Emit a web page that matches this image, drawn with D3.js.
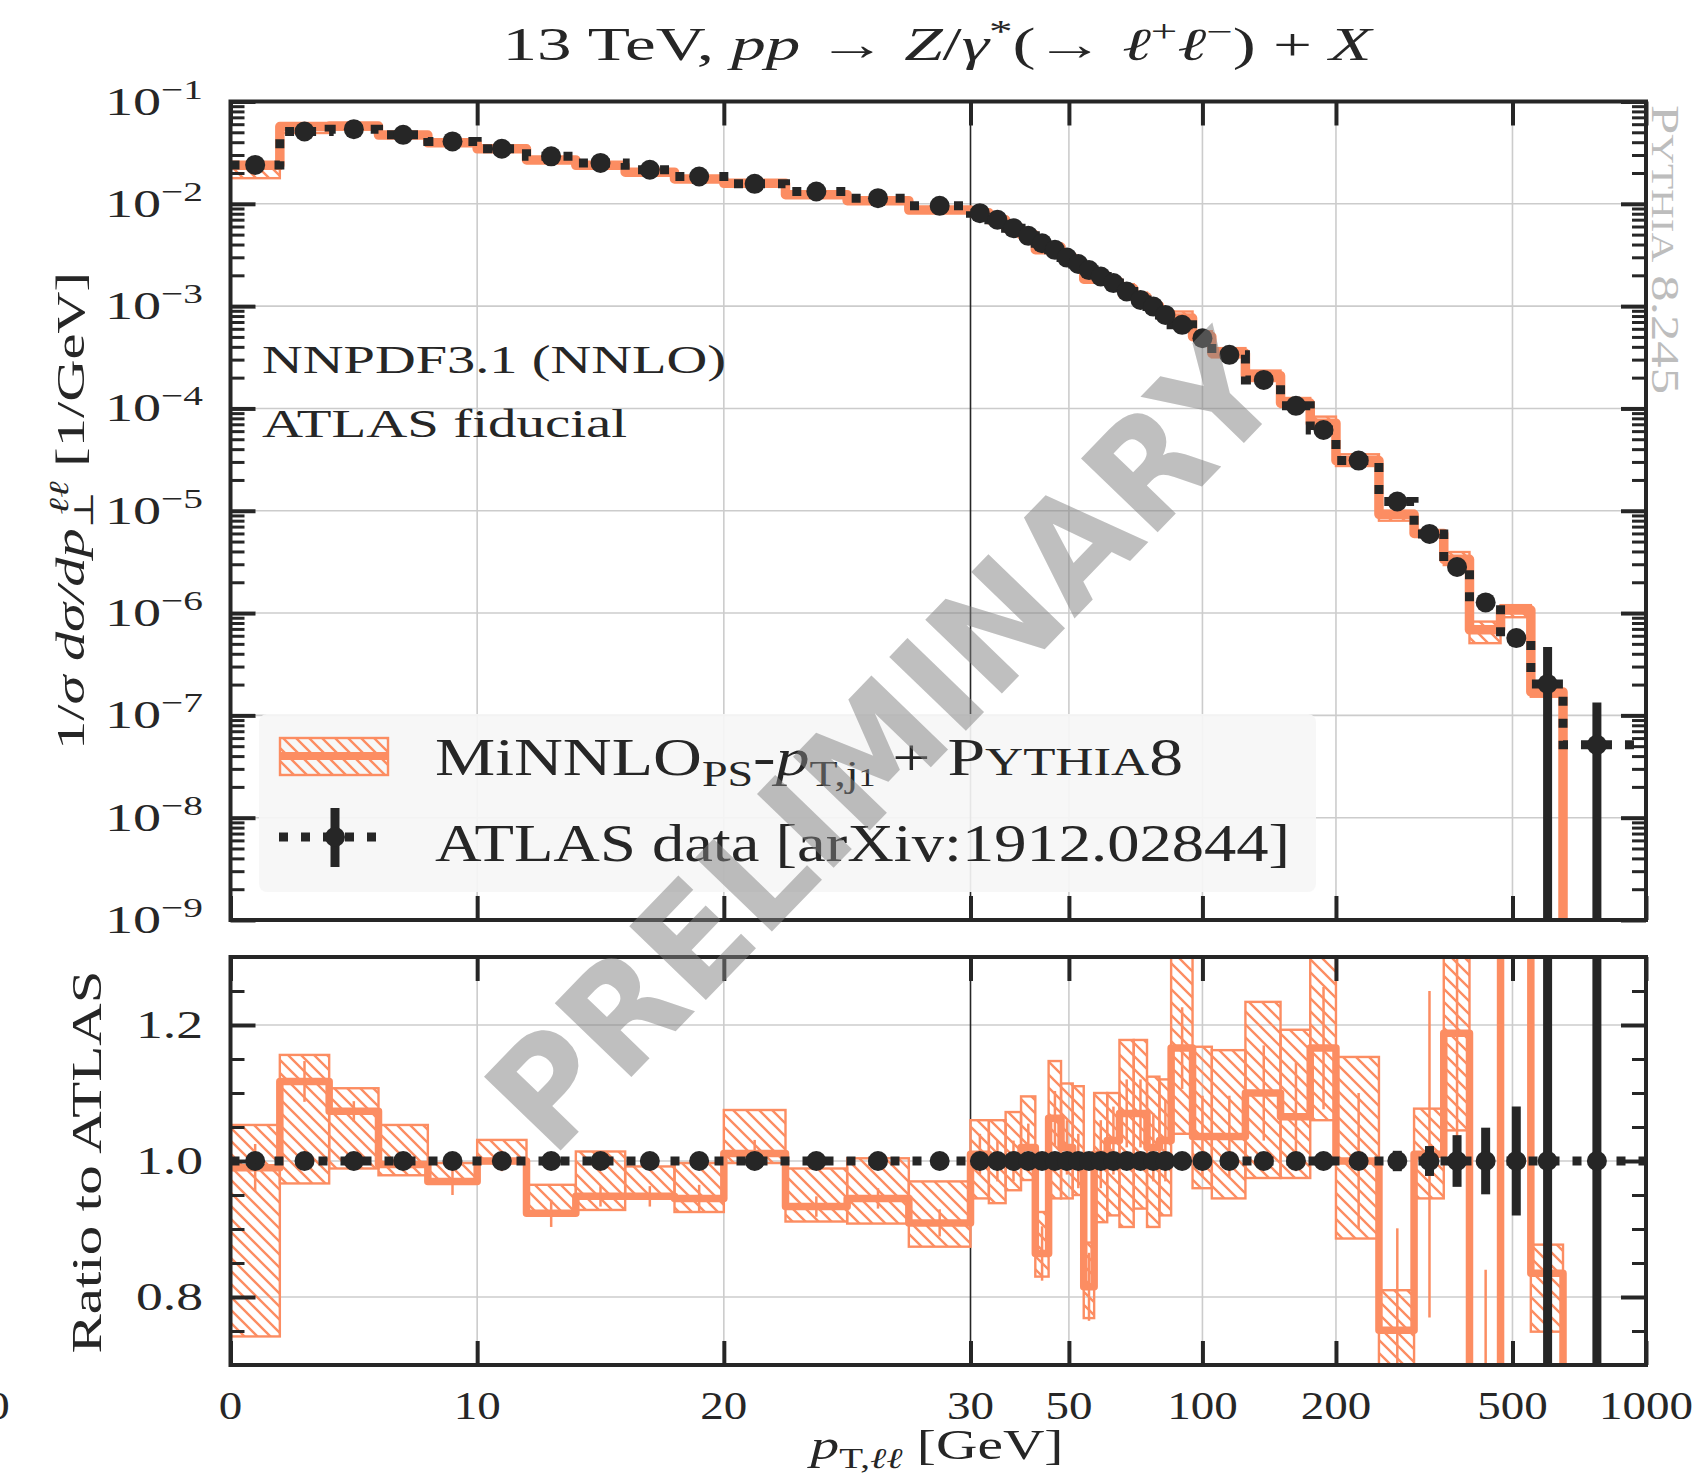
<!DOCTYPE html>
<html>
<head>
<meta charset="utf-8">
<script src="https://cdn.jsdelivr.net/npm/d3@7/dist/d3.min.js"></script>
<style>
  body { margin: 0; background: #fff; }
  svg { display: block; }
  text { font-family: "Liberation Serif", "DejaVu Serif", serif; fill: #262626; }
</style>
</head>
<body>
<svg id="chart" width="1705" height="1481"></svg>
<script>
// ─── data ──────────────────────────────────────────────────────────────────
// ATLAS 13 TeV Z pT binning [GeV]
const binEdges = [0, 2, 4, 6, 8, 10, 12, 14, 16, 18, 20, 22.5, 25, 27.5, 30,
  33, 36, 39, 42, 45, 48, 51, 54, 57, 61, 65, 70, 75, 80, 85, 95, 105, 125,
  150, 175, 200, 250, 300, 350, 400, 470, 550, 650, 900, 2500];

// 1/sigma dsigma/dpT [1/GeV], ATLAS data
const atlasVals = [0.0240, 0.0509, 0.0537, 0.0472, 0.0407, 0.0345, 0.0291, 0.0251,
  0.0215, 0.0185, 0.01567, 0.01318, 0.01135, 0.00955,
  0.0081, 0.00698, 0.00578, 0.00486, 0.00412, 0.00355, 0.00298, 0.00258, 0.00225,
  0.00195, 0.00168, 0.00139, 0.00115, 0.00099, 0.00082, 0.000656, 0.000486,
  0.000334, 0.00019, 0.000106, 6.16e-5, 3.09e-5, 1.23e-5, 5.94e-6, 2.82e-6,
  1.27e-6, 5.69e-7, 2.03e-7, 5.15e-8, 5.15e-8];

// relative uncertainty of the data
const atlasRelErr = [0.005, 0.005, 0.005, 0.005, 0.005, 0.005, 0.005, 0.005, 0.005,
  0.005, 0.005, 0.005, 0.005, 0.005, 0.005, 0.005, 0.005, 0.005, 0.005, 0.005,
  0.005, 0.005, 0.005, 0.005, 0.005, 0.005, 0.005, 0.005, 0.005, 0.005, 0.006,
  0.006, 0.007, 0.008, 0.009, 0.01, 0.015, 0.022, 0.038, 0.049, 0.08, 1.3, 1.6, 0];

// MiNNLO_PS + Pythia8 divided by ATLAS
const mnRatio = [0.99, 1.117, 1.073, 0.995, 0.97, 1.0, 0.923, 0.948, 0.948, 0.945,
  1.011, 0.933, 0.945, 0.909,
  1.01, 1.0, 1.0, 1.02, 0.864, 1.063, 1.02, 1.0, 0.815, 1.01, 1.03, 1.07, 1.07,
  1.02, 1.03, 1.166, 1.036, 1.036, 1.10, 1.065, 1.166, 1.0, 0.751, 1.01, 1.188,
  0.54, 1.88, 0.835, 0, 0];
const mnBandLo = [0.742, 0.967, 0.989, 0.979, 0.967, 0.997, 0.923, 0.928, 0.948,
  0.925, 0.997, 0.911, 0.908, 0.874,
  0.945, 0.938, 0.957, 0.972, 0.83, 0.945, 0.945, 0.95, 0.769, 0.91, 0.92, 0.903,
  0.93, 0.903, 0.92, 1.04, 0.96, 0.945, 0.975, 0.975, 1.06, 0.886, 0.65, 0.945,
  1.045, 0.4, 1.6, 0.749, null, null];
const mnBandHi = [1.053, 1.156, 1.107, 1.053, 0.997, 1.031, 0.965, 1.014, 0.992,
  0.997, 1.075, 0.989, 1.004, 0.97,
  1.06, 1.06, 1.072, 1.095, 0.925, 1.147, 1.114, 1.11, 0.88, 1.10, 1.10, 1.178,
  1.178, 1.124, 1.12, 1.35, 1.168, 1.163, 1.234, 1.193, 1.35, 1.153, 0.81, 1.077,
  1.4, 0.65, 2.1, 0.877, null, null];
const mnStatErr = [0.035, 0.03, 0.015, 0.01, 0.02, 0.015, 0.02, 0.015, 0.015, 0.02,
  0.02, 0.015, 0.015, 0.02,
  0.03, 0.03, 0.03, 0.035, 0.04, 0.04, 0.04, 0.04, 0.05, 0.05, 0.05, 0.05, 0.05,
  0.05, 0.06, 0.06, 0.06, 0.06, 0.07, 0.08, 0.09, 0.1, 0.15, 0.24, 0.2, 0.3, 0.5,
  0.4, 0, 0];

// ticks
const xLinTicks = [0, 10, 20, 30];
const xLogTicks = [50, 100, 200, 500, 1000];
const yDecades = [-9, -8, -7, -6, -5, -4, -3, -2, -1];
const ratioMajor = [0.8, 1.0, 1.2];
const ratioMinor = [0.75, 0.85, 0.9, 0.95, 1.05, 1.1, 1.15, 1.25];

// ─── geometry ──────────────────────────────────────────────────────────────
const ORANGE = "#fc8d62", INK = "#262626", GRID = "#cccccc";
const X0 = 230.5, XM = 970.5, X1 = 1646;
const MT = 101.5, MB = 920, RT = 957, RB = 1365;

const xLin = d3.scaleLinear().domain([0, 30]).range([X0, XM]);
const xLog = d3.scaleLog().domain([30, 1000]).range([XM, X1]);
const xPos = v => v <= 30 ? xLin(v) : xLog(v);
const yMain = d3.scaleLog().domain([1e-9, 1e-1]).range([MB, MT]);
const yM = v => yMain(Math.max(v, 1e-13));
const yRat = d3.scaleLinear().domain([0.7, 1.3]).range([RB, RT]);

const bins = atlasVals.map((v, i) => ({
  lo: binEdges[i], hi: binEdges[i + 1], mid: (binEdges[i] + binEdges[i + 1]) / 2,
  data: v, err: atlasRelErr[i],
  r: mnRatio[i], mn: v * mnRatio[i],
  bLo: mnBandLo[i], bHi: mnBandHi[i], stat: mnStatErr[i]
}));
const shown = bins.filter(b => b.mid < 1000);

const svg = d3.select("#chart");
const defs = svg.append("defs");
defs.append("clipPath").attr("id", "clipMain").append("rect")
  .attr("x", X0).attr("y", MT).attr("width", X1 - X0).attr("height", MB - MT);
defs.append("clipPath").attr("id", "clipRat").append("rect")
  .attr("x", X0).attr("y", RT).attr("width", X1 - X0).attr("height", RB - RT);
const hatch = defs.append("pattern").attr("id", "hatch")
  .attr("patternUnits", "userSpaceOnUse").attr("width", 13).attr("height", 13);
hatch.append("path")
  .attr("d", "M-3.25,-3.25L16.25,16.25M-3.25,9.75L3.25,16.25M9.75,-3.25L16.25,3.25")
  .attr("stroke", ORANGE).attr("stroke-width", 2.4);

const stepPath = (acc, y) => d3.line().curve(d3.curveStepAfter)
  .x(d => xPos(d.x)).y(d => y(d.v))(
    bins.map(b => ({ x: b.lo, v: acc(b) }))
      .concat([{ x: bins[bins.length - 1].hi, v: acc(bins[bins.length - 1]) }]));

// ─── grids ─────────────────────────────────────────────────────────────────
const gridX = [10, 20, 50, 100, 200, 500];
function grid(top, bottom, hVals, y) {
  const g = svg.append("g").attr("stroke", GRID).attr("stroke-width", 1.6);
  g.selectAll("line.h").data(hVals).join("line").attr("class", "h")
    .attr("x1", X0).attr("x2", X1).attr("y1", y).attr("y2", y);
  g.selectAll("line.v").data(gridX).join("line").attr("class", "v")
    .attr("x1", xPos).attr("x2", xPos).attr("y1", top).attr("y2", bottom);
  svg.append("line").attr("x1", XM).attr("x2", XM).attr("y1", top).attr("y2", bottom)
    .attr("stroke", INK).attr("stroke-width", 1.6);
}
grid(MT, MB, yDecades.slice(1, -1).map(k => Math.pow(10, k)), d => yMain(d));
grid(RT, RB, ratioMajor, d => yRat(d));

// ─── main panel ────────────────────────────────────────────────────────────
const main = svg.append("g").attr("clip-path", "url(#clipMain)");
main.selectAll("rect.band").data(bins.filter(b => b.bLo != null)).join("rect")
  .attr("class", "band")
  .attr("x", b => xPos(b.lo)).attr("width", b => xPos(b.hi) - xPos(b.lo))
  .attr("y", b => yM(b.data * b.bHi))
  .attr("height", b => yM(b.data * b.bLo) - yM(b.data * b.bHi))
  .attr("fill", "url(#hatch)").attr("stroke", ORANGE).attr("stroke-width", 2.4);
main.append("path").attr("d", stepPath(b => b.mn, yM))
  .attr("fill", "none").attr("stroke", ORANGE).attr("stroke-width", 9.5)
  .attr("stroke-linejoin", "round");
main.append("path").attr("d", stepPath(b => b.data, yM))
  .attr("fill", "none").attr("stroke", INK).attr("stroke-width", 9)
  .attr("stroke-dasharray", "9 13");
main.selectAll("line.err").data(shown).join("line").attr("class", "err")
  .attr("x1", b => xPos(b.mid)).attr("x2", b => xPos(b.mid))
  .attr("y1", b => yM(b.data * (1 + b.err)))
  .attr("y2", b => b.err >= 1 ? MB + 20 : yM(b.data * (1 - b.err)))
  .attr("stroke", INK).attr("stroke-width", 9);
main.selectAll("circle").data(shown).join("circle")
  .attr("cx", b => xPos(b.mid)).attr("cy", b => yM(b.data)).attr("r", 10)
  .attr("fill", INK);

// ─── ratio panel ───────────────────────────────────────────────────────────
const rat = svg.append("g").attr("clip-path", "url(#clipRat)");
rat.selectAll("rect.band").data(bins.filter(b => b.bLo != null)).join("rect")
  .attr("class", "band")
  .attr("x", b => xPos(b.lo)).attr("width", b => xPos(b.hi) - xPos(b.lo))
  .attr("y", b => yRat(b.bHi)).attr("height", b => yRat(b.bLo) - yRat(b.bHi))
  .attr("fill", "url(#hatch)").attr("stroke", ORANGE).attr("stroke-width", 2.4);
rat.append("path").attr("d", stepPath(b => b.r, yRat))
  .attr("fill", "none").attr("stroke", ORANGE).attr("stroke-width", 7.5)
  .attr("stroke-linejoin", "round");
rat.selectAll("line.stat").data(bins.filter(b => b.stat > 0)).join("line")
  .attr("class", "stat")
  .attr("x1", b => xPos(b.mid)).attr("x2", b => xPos(b.mid))
  .attr("y1", b => yRat(b.r + b.stat)).attr("y2", b => yRat(b.r - b.stat))
  .attr("stroke", ORANGE).attr("stroke-width", 2.5);
rat.append("path").attr("d", stepPath(() => 1, yRat))
  .attr("fill", "none").attr("stroke", INK).attr("stroke-width", 9)
  .attr("stroke-dasharray", "9 13");
rat.selectAll("line.err").data(shown).join("line").attr("class", "err")
  .attr("x1", b => xPos(b.mid)).attr("x2", b => xPos(b.mid))
  .attr("y1", b => yRat(1 + b.err)).attr("y2", b => yRat(1 - b.err))
  .attr("stroke", INK).attr("stroke-width", 9);
rat.selectAll("circle").data(shown).join("circle")
  .attr("cx", b => xPos(b.mid)).attr("cy", yRat(1)).attr("r", 10)
  .attr("fill", INK);

// ─── axes (inward ticks on all four sides) ─────────────────────────────────
function tickGroup(axis, tx, ty, w) {
  const g = svg.append("g").attr("transform", `translate(${tx},${ty})`).call(axis);
  g.select(".domain").remove();
  g.selectAll(".tick line").attr("stroke", INK).attr("stroke-width", w);
  return g;
}
function xTicks(yEdge, top) {
  const mk = s => (top ? d3.axisTop(s) : d3.axisBottom(s)).tickSize(-24).tickFormat("");
  tickGroup(mk(xLin).tickValues(xLinTicks), 0, yEdge, 4);
  tickGroup(mk(xLog).tickValues(xLogTicks), 0, yEdge, 4);
}
xTicks(MB, false); xTicks(MT, true); xTicks(RB, false); xTicks(RT, true);

const mainMinor = [];
yDecades.slice(0, -1).forEach(k => d3.range(2, 10).forEach(m => mainMinor.push(m * Math.pow(10, k))));
const decVals = yDecades.map(k => Math.pow(10, k));
[[d3.axisLeft, X0], [d3.axisRight, X1]].forEach(([ax, xe]) => {
  tickGroup(ax(yMain).tickValues(decVals).tickSize(-25).tickFormat(""), xe, 0, 4);
  tickGroup(ax(yMain).tickValues(mainMinor).tickSize(-14).tickFormat(""), xe, 0, 3);
  tickGroup(ax(yRat).tickValues(ratioMajor).tickSize(-25).tickFormat(""), xe, 0, 4);
  tickGroup(ax(yRat).tickValues(ratioMinor).tickSize(-14).tickFormat(""), xe, 0, 3);
});

[[MT, MB], [RT, RB]].forEach(([t, b]) => svg.append("rect")
  .attr("x", X0).attr("y", t).attr("width", X1 - X0).attr("height", b - t)
  .attr("fill", "none").attr("stroke", INK).attr("stroke-width", 4));

// ─── text helpers ──────────────────────────────────────────────────────────
function rich(x, y, parts, o) {
  const t = svg.append("text").attr("x", x).attr("y", y).attr("font-size", o.size);
  if (o.anchor) t.attr("text-anchor", o.anchor);
  if (o.transform) t.attr("transform", o.transform);
  if (o.fill) t.style("fill", o.fill);
  let shift = 0;
  parts.forEach(p => {
    const s = t.append("tspan").text(p.t);
    const target = p.sup ? -o.size * 0.4 : p.sub ? o.size * 0.22 : 0;
    if (target !== shift) { s.attr("dy", target - shift); shift = target; }
    if (p.i) s.attr("font-style", "italic");
    if (p.sup || p.sub) s.attr("font-size", o.size * (p.small || 0.68));
    if (p.sc) s.attr("font-size", o.size * 0.78);
    if (p.dx) s.attr("dx", p.dx);
  });
  if (o.len) t.attr("textLength", o.len).attr("lengthAdjust", "spacingAndGlyphs");
  return t;
}

// tick labels
const xLabelY = 1419;
xLinTicks.forEach(v => rich(xLin(v), xLabelY, [{ t: String(v) }],
  { size: 40, anchor: "middle", len: 23.5 * String(v).length }));
xLogTicks.forEach(v => rich(xLog(v), xLabelY, [{ t: String(v) }],
  { size: 40, anchor: "middle", len: 23.5 * String(v).length }));
rich(-2, xLabelY, [{ t: "0" }], { size: 40, anchor: "middle", len: 23.5 });

yDecades.forEach(k => rich(203, yMain(Math.pow(10, k)) + 13,
  [{ t: "10" }, { t: "\u2212" + (-k), sup: true, small: 0.7 }],
  { size: 40, anchor: "end", len: 98 }));
ratioMajor.forEach(v => rich(203, yRat(v) + 13, [{ t: v.toFixed(1) }],
  { size: 40, anchor: "end", len: 67 }));

// title
rich(937, 60, [
  { t: "13 TeV, " }, { t: "pp", i: true }, { t: " \u2192 " }, { t: "Z", i: true },
  { t: "/" }, { t: "\u03b3", i: true }, { t: "*", sup: true }, { t: "(\u2192 " },
  { t: "\u2113", i: true }, { t: "+", sup: true }, { t: "\u2113", i: true },
  { t: "\u2212", sup: true }, { t: ") + " }, { t: "X", i: true }
], { size: 46, anchor: "middle", len: 869 });

// axis titles
rich(0, 0, [
  { t: "1/" }, { t: "\u03c3", i: true }, { t: " d\u03c3/dp", i: true },
  { t: "\u22a5", sub: true }, { t: "\u2113\u2113", sup: true, i: true, dx: -16 },
  { t: " [1/GeV]" }
], { size: 40, anchor: "middle", transform: "translate(84,511) rotate(-90)", len: 478 });
rich(0, 0, [{ t: "Ratio to ATLAS" }],
  { size: 42, anchor: "middle", transform: "translate(101,1162) rotate(-90)", len: 383 });
rich(937, 1459, [
  { t: "p", i: true }, { t: "T,", sub: true }, { t: "\u2113\u2113", sub: true, i: true },
  { t: "  [GeV]" }
], { size: 42, anchor: "middle", len: 253 });

// annotations
rich(262, 373, [{ t: "NNPDF3.1 (NNLO)" }], { size: 40, len: 464 });
rich(262, 437, [{ t: "ATLAS fiducial" }], { size: 40, len: 365 });
rich(0, 0, [{ t: "P" }, { t: "YTHIA", sc: true }, { t: " 8.245" }],
  { size: 40, transform: "translate(1652,105) rotate(90)", len: 289, fill: "#bdbdbd" });

// ─── legend ────────────────────────────────────────────────────────────────
svg.append("rect").attr("x", 259).attr("y", 714).attr("width", 1057).attr("height", 178)
  .attr("rx", 8).attr("fill", "#f6f6f6").attr("fill-opacity", 0.92);
svg.append("rect").attr("x", 280).attr("y", 738).attr("width", 108).attr("height", 37)
  .attr("fill", "url(#hatch)").attr("stroke", ORANGE).attr("stroke-width", 2.4);
svg.append("line").attr("x1", 280).attr("x2", 388).attr("y1", 756).attr("y2", 756)
  .attr("stroke", ORANGE).attr("stroke-width", 8);
svg.append("line").attr("x1", 279).attr("x2", 381).attr("y1", 837).attr("y2", 837)
  .attr("stroke", INK).attr("stroke-width", 9).attr("stroke-dasharray", "9 13");
svg.append("line").attr("x1", 335).attr("x2", 335).attr("y1", 808).attr("y2", 867)
  .attr("stroke", INK).attr("stroke-width", 9);
svg.append("circle").attr("cx", 335).attr("cy", 837).attr("r", 10).attr("fill", INK);
rich(435, 775, [
  { t: "MiNNLO" }, { t: "PS", sub: true }, { t: "-" }, { t: "p", i: true },
  { t: "T,j", sub: true }, { t: "1", sub: true, small: 0.5 }, { t: " + " },
  { t: "P" }, { t: "YTHIA", sc: true }, { t: "8" }
], { size: 52, len: 748 });
rich(435, 861, [{ t: "ATLAS data [arXiv:1912.02844]" }], { size: 52, len: 855 });

// ─── watermark ─────────────────────────────────────────────────────────────
svg.append("text")
  .attr("transform", "translate(882,742) rotate(-46)")
  .attr("text-anchor", "middle").attr("dy", "0.36em")
  .attr("textLength", 1060).attr("lengthAdjust", "spacingAndGlyphs")
  .style("font-family", "'DejaVu Sans', sans-serif").style("font-weight", "bold")
  .style("font-size", "146px").style("fill", "#808080").style("fill-opacity", 0.5)
  .text("PRELIMINARY");
</script>
</body>
</html>
